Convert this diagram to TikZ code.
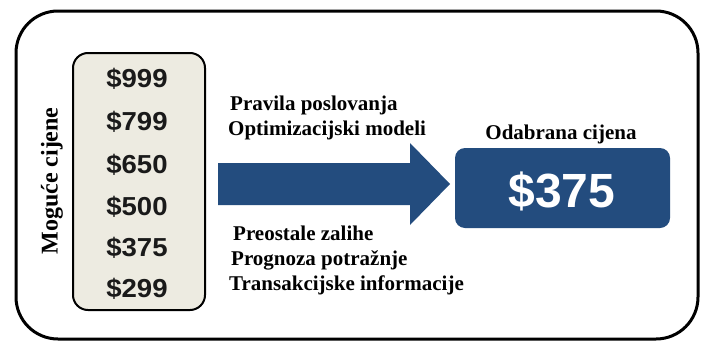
\documentclass[tikz,border=0pt]{standalone}
\usepackage{fontspec}
\setmainfont{Liberation Serif}
\setsansfont{Liberation Sans}
\definecolor{navy}{HTML}{234C7E}
\definecolor{beige}{HTML}{EDEBE1}
\definecolor{ink}{HTML}{1A1A1A}
\begin{document}
\begin{tikzpicture}[x=1pt,y=-1pt,
  price/.style={anchor=base,font=\sffamily\bfseries\fontsize{26}{28}\selectfont,text=ink,xscale=1.06,inner sep=0pt},
  info/.style={anchor=base west,font=\rmfamily\bfseries\fontsize{21}{24}\selectfont,inner sep=0pt},
]
\useasboundingbox (0,0) rectangle (701,343);
\fill[white] (0,0) rectangle (701,343);
% outer frame
\draw[line width=3pt,rounded corners=42pt] (16,11) rectangle (698,339);
% price list box
\node[draw=black,line width=2pt,fill=beige,rounded corners=15pt,minimum width=132pt,minimum height=257pt,inner sep=0pt] (list) at (139,181.5) {};
\node[price] (p1) at (137,87) {\$999};
\node[price] (p2) at (137,130) {\$799};
\node[price] (p3) at (137,173) {\$650};
\node[price] (p4) at (137,215) {\$500};
\node[price] (p5) at (137,256) {\$375};
\node[price] (p6) at (137,297) {\$299};
% vertical label
\node[rotate=90,font=\rmfamily\bfseries\fontsize{24}{26}\selectfont,inner sep=0pt] (lab) at (52,181) {Moguće cijene};
% arrow
\fill[navy] (218,163) -- (410,163) -- (410,143) -- (450,184) -- (410,225) -- (410,205) -- (218,205) -- cycle;
% info texts
\node[info] (t1) at (230,110) {Pravila poslovanja};
\node[info] (t2) at (228,135) {Optimizacijski modeli};
\node[info] (t3) at (233,240) {Preostale zalihe};
\node[info] (t4) at (231,265) {Prognoza potražnje};
\node[info] (t5) at (229,290) {Transakcijske informacije};
% selected price
\node[fill=navy,rounded corners=10pt,minimum width=215pt,minimum height=80pt,inner sep=0pt] (sel) at (562.5,188) {};
\node[anchor=base,font=\sffamily\bfseries\fontsize{48}{50}\selectfont,text=white,inner sep=0pt] (selp) at (562,207) {\$375};
\node[anchor=base,font=\rmfamily\bfseries\fontsize{21}{24}\selectfont,inner sep=0pt] (seltitle) at (561,139) {Odabrana cijena};
\end{tikzpicture}
\end{document}
